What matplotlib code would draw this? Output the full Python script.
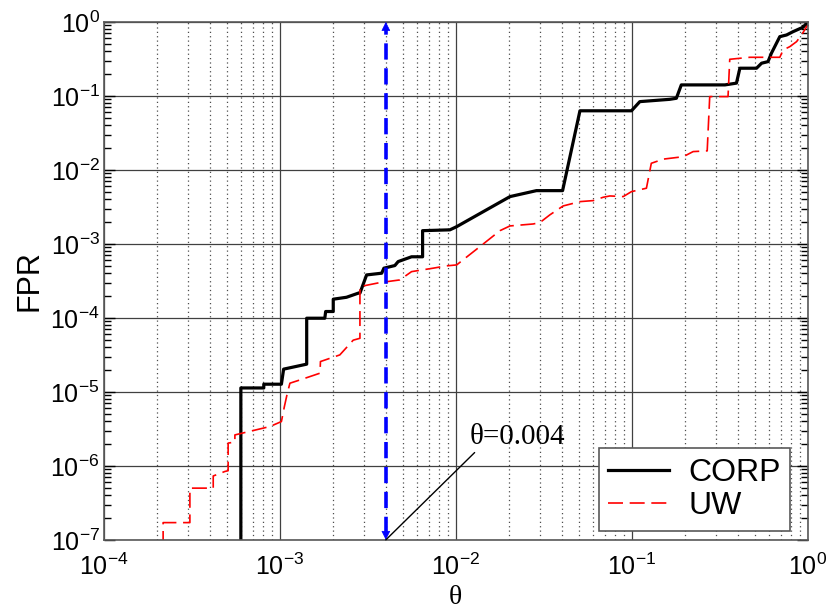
import numpy as np
import matplotlib
matplotlib.use('Agg')
import matplotlib.pyplot as plt
from matplotlib.ticker import LogLocator, NullFormatter

plt.rcParams['font.family'] = ['Liberation Sans', 'DejaVu Sans']
plt.rcParams['mathtext.fontset'] = 'custom'
plt.rcParams['mathtext.rm'] = 'Liberation Sans'
plt.rcParams['mathtext.it'] = 'Liberation Sans:italic'

# CORP curve (theta, FPR)
corp_theta = [6.0e-4, 6.0e-4, 8.1e-4, 8.1e-4, 1.02e-3, 1.05e-3, 1.42e-3, 1.42e-3, 1.80e-3, 1.82e-3,
              2.01e-3, 2.01e-3, 2.39e-3, 2.79e-3, 2.85e-3, 3.11e-3, 3.79e-3, 3.9e-3, 4.5e-3, 4.7e-3,
              5.6e-3, 6.47e-3, 6.47e-3, 9.25e-3, 1.01e-2, 2.03e-2, 2.87e-2, 4.04e-2, 5.07e-2, 9.95e-2,
              1.11e-1, 1.64e-1, 1.79e-1, 1.91e-1, 3.38e-1, 3.93e-1, 4.11e-1, 5.11e-1, 5.46e-1, 5.94e-1,
              6.21e-1, 6.93e-1, 7.57e-1, 8.25e-1, 9.4e-1, 1.0]
corp_fpr = [1e-8, 1.13e-5, 1.13e-5, 1.27e-5, 1.27e-5, 2.03e-5, 2.37e-5, 9.9e-5, 9.9e-5, 1.22e-4,
            1.22e-4, 1.79e-4, 1.90e-4, 2.16e-4, 2.16e-4, 3.81e-4, 4.02e-4, 4.7e-4, 5.1e-4, 5.77e-4,
            6.7e-4, 6.7e-4, 1.51e-3, 1.55e-3, 1.71e-3, 4.36e-3, 5.25e-3, 5.25e-3, 6.3e-2, 6.3e-2,
            8.38e-2, 9.0e-2, 9.3e-2, 1.41e-1, 1.41e-1, 1.49e-1, 2.37e-1, 2.37e-1, 2.77e-1, 2.91e-1,
            3.78e-1, 6.33e-1, 6.67e-1, 7.4e-1, 8.5e-1, 1.0]

# UW curve (theta, FPR)
uw_theta = [2.17e-4, 2.17e-4, 3.08e-4, 3.08e-4, 3.19e-4, 4.18e-4, 4.18e-4, 4.87e-4, 5.08e-4, 5.08e-4,
            5.55e-4, 5.55e-4, 8.77e-4, 1.02e-3, 1.06e-3, 1.10e-3, 1.14e-3, 1.30e-3, 1.69e-3, 1.70e-3,
            2.19e-3, 2.61e-3, 2.85e-3, 2.85e-3, 3.70e-3, 4.8e-3, 5.6e-3, 7.43e-3, 8.85e-3, 1.01e-2,
            1.37e-2, 1.78e-2, 2.03e-2, 2.75e-2, 3.0e-2, 3.42e-2, 4.07e-2, 5.07e-2, 6.03e-2, 6.87e-2,
            7.5e-2, 8.93e-2, 9.95e-2, 1.21e-1, 1.29e-1, 1.51e-1, 1.96e-1, 2.23e-1, 2.68e-1, 2.77e-1,
            3.52e-1, 3.60e-1, 4.68e-1, 6.93e-1, 7.24e-1, 7.9e-1, 8.63e-1, 9.21e-1, 9.84e-1, 1.0]
uw_fpr = [1e-8, 1.71e-7, 1.71e-7, 5.0e-7, 5.0e-7, 5.0e-7, 7.3e-7, 8.4e-7, 8.6e-7, 2.03e-6,
          2.1e-6, 2.62e-6, 3.4e-6, 3.97e-6, 6.3e-6, 9.4e-6, 1.31e-5, 1.45e-5, 1.79e-5, 2.57e-5,
          3.16e-5, 5.0e-5, 5.3e-5, 2.65e-4, 3.0e-4, 3.26e-4, 4.22e-4, 4.7e-4, 5.05e-4, 5.2e-4,
          9.2e-4, 1.51e-3, 1.75e-3, 1.86e-3, 1.94e-3, 2.47e-3, 3.26e-3, 3.73e-3, 3.85e-3, 4.27e-3,
          4.45e-3, 4.36e-3, 5.09e-3, 5.66e-3, 1.23e-2, 1.40e-2, 1.51e-2, 1.77e-2, 1.81e-2, 9.8e-2,
          9.8e-2, 3.13e-1, 3.33e-1, 3.33e-1, 4.18e-1, 4.64e-1, 5.42e-1, 6.67e-1, 8.63e-1, 9.0e-1]

theta_mark = 0.004

fig = plt.figure(figsize=(8.38, 6.10), dpi=100)
ax = fig.add_axes([0.124, 0.115, 0.840, 0.849])

ax.plot(corp_theta, corp_fpr, color='black', lw=2.3, label='CORP')
ax.plot(uw_theta, uw_fpr, color='red', lw=1.2, dashes=(9, 4), label='UW')

# vertical marker at theta=0.004
ax.plot([theta_mark, theta_mark], [1.25e-7, 0.8], color='blue', lw=2.6, dashes=(4.5, 2.4))
for tip, tail in [(1.0, 0.75), (1e-7, 1.35e-7)]:
    ax.annotate('', xy=(theta_mark, tip), xytext=(theta_mark, tail),
                arrowprops=dict(arrowstyle='-|>', color='blue', lw=0.5,
                                mutation_scale=14, shrinkA=0, shrinkB=0))

ax.annotate('θ=0.004', xy=(theta_mark, 1e-7), xytext=(0.0120, 1.65e-6),
            ha='left', va='bottom', fontsize=21, family=['Liberation Serif', 'DejaVu Serif'],
            arrowprops=dict(arrowstyle='-', color='black', lw=1.0, relpos=(0.08, 0.0),
                            shrinkA=0, shrinkB=0))

ax.set_xscale('log')
ax.set_yscale('log')
ax.set_xlim(1e-4, 1)
ax.set_ylim(1e-7, 1)

ax.xaxis.set_major_locator(LogLocator(base=10, numticks=10))
ax.xaxis.set_minor_locator(LogLocator(base=10, subs=np.arange(2, 10), numticks=20))
ax.xaxis.set_minor_formatter(NullFormatter())
ax.yaxis.set_major_locator(LogLocator(base=10, numticks=10))
ax.yaxis.set_minor_locator(LogLocator(base=10, subs=np.arange(2, 10), numticks=20))
ax.yaxis.set_minor_formatter(NullFormatter())

ax.grid(True, which='major', color='0.25', lw=0.9, ls='-')
ax.grid(True, which='minor', axis='x', color='0.3', lw=0.9, ls=(0, (1, 2.5)))

ax.tick_params(axis='x', which='both', length=0, labelsize=18, pad=10)
ax.tick_params(axis='y', which='both', direction='in', left=True, right=True, labelsize=18, pad=3)
ax.tick_params(axis='y', which='major', length=8, width=1)
ax.tick_params(axis='y', which='minor', length=5, width=1)

for sp in ax.spines.values():
    sp.set_color('0.35')
    sp.set_linewidth(1.2)

ax.set_ylabel('FPR', fontsize=22)
ax.yaxis.set_label_coords(-0.084, 0.5)
ax.set_xlabel('θ', fontsize=20, family=['Liberation Serif', 'DejaVu Serif'])
ax.xaxis.set_label_coords(0.5, -0.087)

leg = ax.legend(loc='lower right', bbox_to_anchor=(0.975, 0.018), fontsize=23,
                frameon=True, fancybox=False, framealpha=1, edgecolor='0.35',
                handlelength=1.9, handletextpad=0.6, borderpad=0.3, labelspacing=0.1,
                borderaxespad=0)
leg.get_frame().set_linewidth(1.2)

plt.savefig('out.png', dpi=100)
